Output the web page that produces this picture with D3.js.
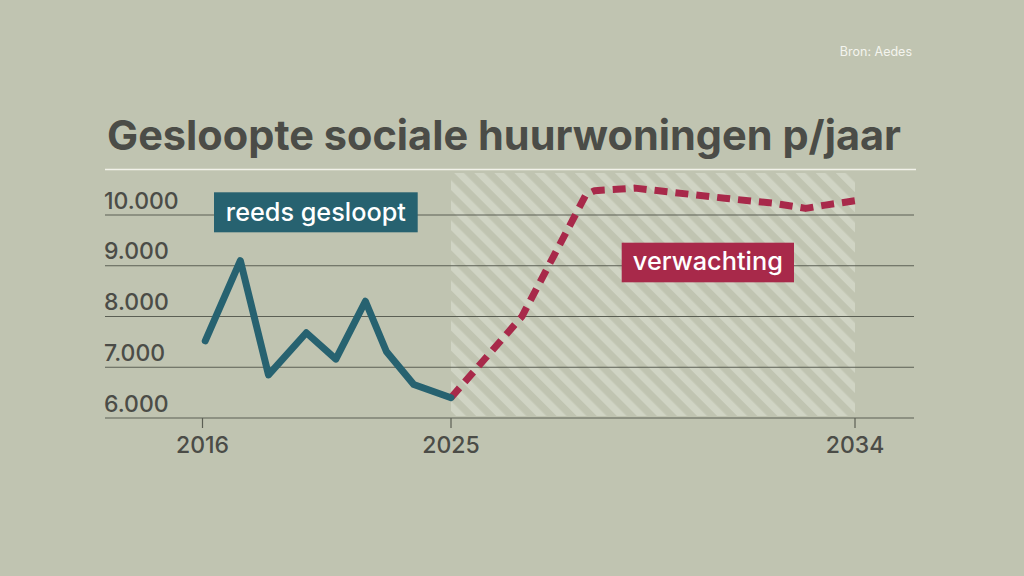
<!DOCTYPE html>
<html><head><meta charset="utf-8">
<script src="https://cdn.jsdelivr.net/npm/d3@7"></script>
<style>
html,body{margin:0;padding:0;background:#c0c4b1;}
svg{display:block;font-family:Inter,"Noto Sans",sans-serif;}
</style></head><body>
<svg id="c" width="1024" height="576"></svg>
<script>
const titleText = "Gesloopte sociale huurwoningen p/jaar";
const sourceText = "Bron: Aedes";
const yTicks = [6000, 7000, 8000, 9000, 10000];
const xTicks = [2016, 2025, 2034];
const pastYears  = [2016.1, 2017.37, 2018.39, 2019.76, 2020.83, 2021.9, 2022.66, 2023.65, 2025];
const pastValues = [7520, 9100, 6850, 7680, 7160, 8300, 7310, 6660, 6400];
const fcYears  = [2025, 2026.58, 2028.0, 2028.2, 2029.1, 2030.0, 2031.1, 2032.2, 2032.9, 2033.3, 2034];
const fcValues = [6400, 8000, 10390, 10480, 10530, 10440, 10330, 10230, 10130, 10190, 10280];
const pastLabel = "reeds gesloopt";
const fcLabel = "verwachting";

const svg = d3.select("#c");
const bg = "#c0c4b1", ink = "#4b4c47", teal = "#276270", red = "#a8294a";

const x = d3.scaleLinear().domain([2016, 2025, 2034]).range([202.5, 451, 855]);
const y = d3.scaleLinear().domain([6000, 10000]).range([418, 215]);

// hatch pattern
const defs = svg.append("defs");
const pat = defs.append("pattern").attr("id","hatch").attr("patternUnits","userSpaceOnUse")
  .attr("width",14.2).attr("height",14.2).attr("patternTransform","rotate(-45)");
pat.append("rect").attr("width",14.2).attr("height",14.2).attr("fill",bg);
pat.append("rect").attr("width",7).attr("height",14.2).attr("fill","#d0d4c4");

// title
svg.append("text").attr("x",107).attr("y",150).attr("fill",ink)
  .attr("font-size",41).attr("font-weight",700)
  .attr("textLength",794).attr("lengthAdjust","spacingAndGlyphs").text(titleText);
svg.append("line").attr("x1",105).attr("x2",916).attr("y1",169.5).attr("y2",169.5)
  .attr("stroke","#f2f2ea").attr("stroke-width",1.5);
svg.append("text").attr("x",912).attr("y",56).attr("text-anchor","end").attr("fill","#f4f4ee")
  .attr("font-size",12.5).text(sourceText);

// hatched forecast area
svg.append("rect").attr("x",x(2025)).attr("y",173).attr("width",x(2034)-x(2025)).attr("height",243)
  .attr("fill","url(#hatch)");

// gridlines + y labels
const g = svg.append("g");
g.selectAll("line.grid").data(yTicks).join("line").attr("class","grid")
  .attr("x1",105).attr("x2",914).attr("y1",d=>y(d)).attr("y2",d=>y(d))
  .attr("stroke","#5b5f54").attr("stroke-width",1.2);
g.selectAll("text.yl").data(yTicks).join("text").attr("class","yl")
  .attr("x",104).attr("y",d=>y(d)-6.5).attr("fill",ink).attr("font-size",23).attr("font-weight",500)
  .text(d=>d3.format(",")(d).replace(",", "."));

// x axis ticks + labels
g.selectAll("line.xt").data(xTicks).join("line").attr("class","xt")
  .attr("x1",d=>x(d)).attr("x2",d=>x(d)).attr("y1",418).attr("y2",428)
  .attr("stroke","#5b5f54").attr("stroke-width",1.2);
g.selectAll("text.xl").data(xTicks).join("text").attr("class","xl")
  .attr("x",d=>x(d)).attr("y",453).attr("text-anchor","middle").attr("fill",ink)
  .attr("font-size",23).attr("font-weight",500).text(d=>d);

// lines
const line = d3.line().x(d=>x(d[0])).y(d=>y(d[1])).curve(d3.curveLinear);
svg.append("path").datum(fcYears.map((d,i)=>[d,fcValues[i]])).attr("d",line)
  .attr("fill","none").attr("stroke",red).attr("stroke-width",7)
  .attr("stroke-dasharray","13 8").attr("stroke-linejoin","round");
svg.append("path").datum(pastYears.map((d,i)=>[d,pastValues[i]])).attr("d",line)
  .attr("fill","none").attr("stroke",teal).attr("stroke-width",7)
  .attr("stroke-linejoin","round").attr("stroke-linecap","round");

// labels
function tag(xc, yTop, w, h, fill, txt, base, tw){
  svg.append("rect").attr("x",xc).attr("y",yTop).attr("width",w).attr("height",h).attr("fill",fill);
  svg.append("text").attr("x",xc+w/2).attr("y",base).attr("text-anchor","middle")
    .attr("fill","#fff").attr("font-size",25).attr("font-weight",500)
    .attr("textLength",tw).attr("lengthAdjust","spacingAndGlyphs").text(txt);
}
tag(214, 192.3, 203.7, 40, teal, pastLabel, 220.5, 180);
tag(621.7, 242.7, 172.3, 39.6, red, fcLabel, 269.8, 150);
</script></body></html>
